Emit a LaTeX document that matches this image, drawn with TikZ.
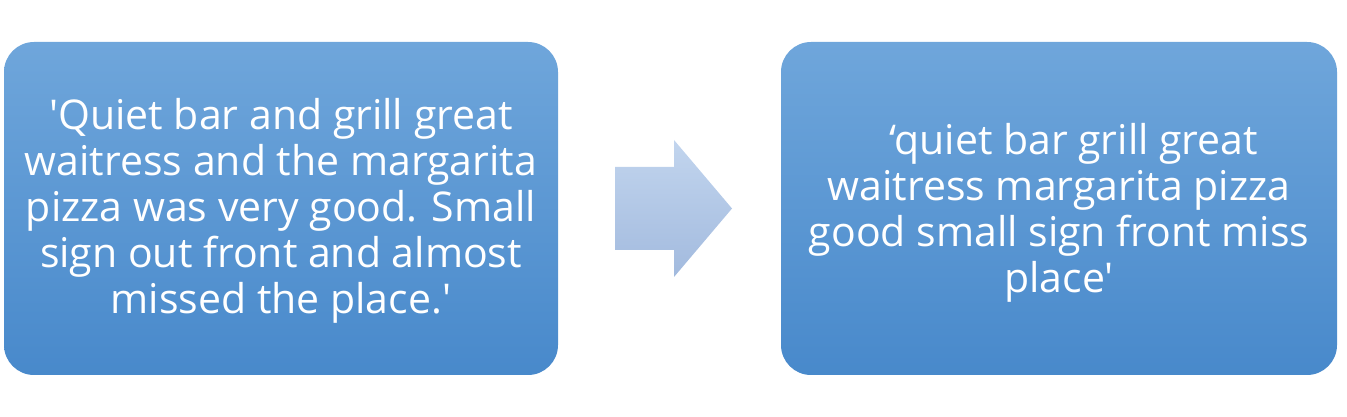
\documentclass[tikz,border=0pt]{standalone}
\usepackage{fontspec}
\setmainfont{Open Sans}[Ligatures=TeXOff]
\definecolor{boxtop}{HTML}{6FA6DB}
\definecolor{boxbot}{HTML}{4889CB}
\definecolor{arrtop}{HTML}{C2D5EE}
\definecolor{arrbot}{HTML}{A2BADE}
\begin{document}
\begin{tikzpicture}[x=1pt,y=1pt,
  textbox/.style={rounded corners=30pt, top color=boxtop, bottom color=boxbot, draw=none},
  boxtext/.style={text=white, align=center, font=\fontsize{41}{46}\selectfont}]
\useasboundingbox (0,0) rectangle (1347,417);
\path[textbox] (4,42) rectangle (558,375);
\path[textbox] (781,42) rectangle (1337,375);
\node[boxtext] (l) at (281,206.5) {'Quiet bar and grill great\\waitress and the margarita\\pizza was very good. Small\\sign out front and almost\\missed the place.'};
\node[boxtext] (r) at (1059,204) {\hspace*{30pt}‘quiet bar grill great\\waitress margarita pizza\\good small sign front miss\\place'};
\path[top color=arrtop, bottom color=arrbot] (615,167) -- (674,167) -- (674,140) -- (732,208.5) -- (674,277) -- (674,250) -- (615,250) -- cycle;
\end{tikzpicture}
\end{document}
